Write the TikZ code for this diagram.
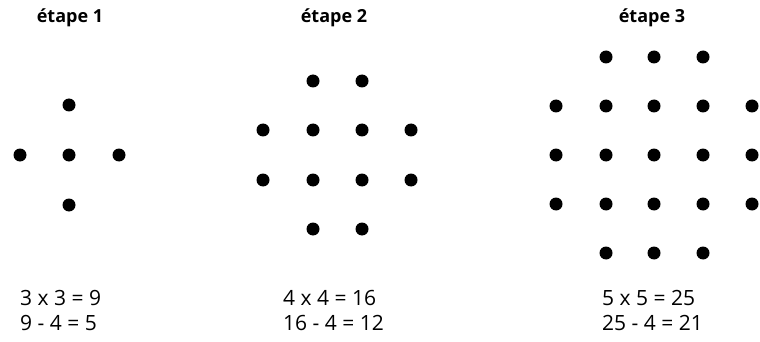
\documentclass[tikz,border=0pt]{standalone}
\usepackage{fontspec}
\setmainfont{Open Sans}
\begin{document}
\begin{tikzpicture}[x=1pt,y=-1pt,
  dot/.style={circle,fill=black,inner sep=0pt,minimum size=13pt},
  title/.style={font=\fontsize{18}{20}\selectfont\bfseries},
  eq/.style={anchor=west,inner sep=0pt,font=\fontsize{21}{24}\selectfont}]
\useasboundingbox (0,0) rectangle (760,342);
% stage 1
\node[title] (t1) at (70,18) {étape 1};
\foreach \x/\y [count=\i] in {69/105, 20/155, 69/155, 119/155, 69/205}
  \node[dot] (a\i) at (\x,\y) {};
\node[eq] (e1a) at (20,298) {3 x 3 = 9};
\node[eq] (e1b) at (20,323) {9 - 4 = 5};
% stage 2
\node[title] (t2) at (334,18) {étape 2};
\foreach \x/\y [count=\i] in {313/81, 362/81,
  263/130, 313/130, 362/130, 411/130,
  263/180, 313/180, 362/180, 411/180,
  313/229, 362/229}
  \node[dot] (b\i) at (\x,\y) {};
\node[eq] (e2a) at (283,298) {4 x 4 = 16};
\node[eq] (e2b) at (283,323) {16 - 4 = 12};
% stage 3
\node[title] (t3) at (652,18) {étape 3};
\foreach \x/\y [count=\i] in {606/57, 654/57, 703/57,
  556/106, 606/106, 654/106, 703/106, 752/106,
  556/155, 606/155, 654/155, 703/155, 752/155,
  556/204, 606/204, 654/204, 703/204, 752/204,
  606/253, 654/253, 703/253}
  \node[dot] (c\i) at (\x,\y) {};
\node[eq] (e3a) at (602,298) {5 x 5 = 25};
\node[eq] (e3b) at (602,323) {25 - 4 = 21};
\end{tikzpicture}
\end{document}
